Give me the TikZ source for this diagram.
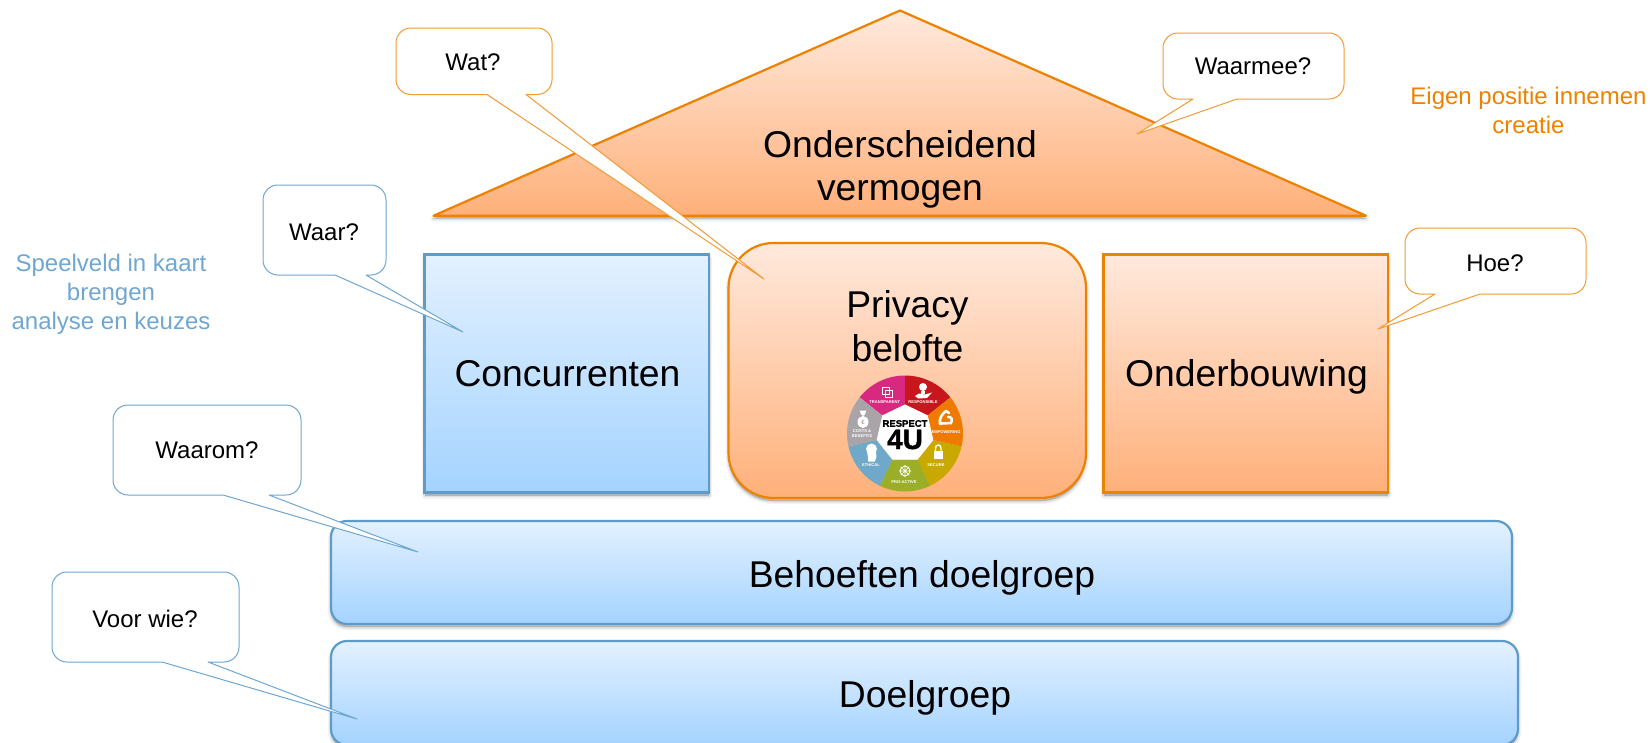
\documentclass[tikz,border=0pt]{standalone}
\usepackage{fontspec}
\setmainfont{Liberation Sans}
\newfontface\logoheavy[FakeBold=1.5]{Liberation Sans Bold}
\definecolor{orline}{HTML}{EE8100}
\definecolor{ortop}{HTML}{FFE9DD}
\definecolor{orbot}{HTML}{FFB07A}
\definecolor{blline}{HTML}{5E9BC9}
\definecolor{bltop}{HTML}{E3F1FF}
\definecolor{blbot}{HTML}{A4D3FF}
\definecolor{calor}{HTML}{F29A35}
\definecolor{calbl}{HTML}{6FA6D2}
\definecolor{wpink}{HTML}{D8287F}
\definecolor{wred}{HTML}{C8161D}
\definecolor{worange}{HTML}{EE7A00}
\definecolor{wyellow}{HTML}{C9A800}
\definecolor{wgreen}{HTML}{9BAE28}
\definecolor{wblue}{HTML}{6FA8C8}
\definecolor{wgrey}{HTML}{A8A4A8}
\tikzset{
  softshadow/.style={
    preaction={draw=black,fill=black,draw opacity=.05,fill opacity=.10,line width=6pt,line join=round,transform canvas={yshift=-3pt}},
    preaction={draw=black,fill=black,draw opacity=.08,fill opacity=.10,line width=3pt,line join=round,transform canvas={yshift=-3pt}}},
  orbox/.style={softshadow,draw=orline,line width=2.2pt,top color=ortop,bottom color=orbot,inner sep=0pt,outer sep=0pt,anchor=north west},
  blbox/.style={softshadow,draw=blline,line width=2.2pt,top color=bltop,bottom color=blbot,inner sep=0pt,outer sep=0pt,anchor=north west},
  bigtext/.style={inner sep=0pt,align=center,font=\fontsize{37.3}{43.5}\selectfont},
  asktext/.style={inner sep=0pt,font=\fontsize{24}{28}\selectfont},
  sidetext/.style={inner sep=0pt,align=center,font=\fontsize{24}{29}\selectfont},
  callor/.style={draw=calor,line width=1pt,fill=white},
  callbl/.style={draw=calbl,line width=1pt,fill=white},
  tinylabel/.style={inner sep=0pt,text=white,align=center,font=\fontsize{4.1}{5.4}\selectfont\bfseries},
  icon/.style={fill=white,draw=none},
  iconline/.style={draw=white,line width=.9pt,fill=none}
}
% x1 y1 x2 y2 tailA tailB tipx tipy style
\newcommand{\calloutshape}[9]{%
  \draw[#9,line join=round] (#5,#4) -- ({#1+15},{#4})
    .. controls ({#1+6.7},{#4}) and ({#1},{#4-6.7}) .. ({#1},{#4-15})
    -- ({#1},{#2+15})
    .. controls ({#1},{#2+6.7}) and ({#1+6.7},{#2}) .. ({#1+15},{#2})
    -- ({#3-15},{#2})
    .. controls ({#3-6.7},{#2}) and ({#3},{#2+6.7}) .. ({#3},{#2+15})
    -- ({#3},{#4-15})
    .. controls ({#3},{#4-6.7}) and ({#3-6.7},{#4}) .. ({#3-15},{#4})
    -- (#6,#4) -- (#7,#8) -- cycle;}
\begin{document}
\begin{tikzpicture}[x=1pt,y=-1pt]
\useasboundingbox (0,0) rectangle (1650,742);
\clip (0,0) rectangle (1650,742);
% house
\path[softshadow,draw=orline,line width=2.2pt,line join=round,top color=ortop,bottom color=orbot] (900,10.5) -- (1366,215.7) -- (433.5,215.7) -- cycle;
\node[bigtext] (roof) at (900,169.5) {Onderscheidend\\vermogen};
\node[blbox,minimum width=284.5pt,minimum height=238pt] (conc) at (424.5,254.5) {};
\node[bigtext] (conctext) at (567.5,373.5) {Concurrenten};
\node[orbox,rounded corners=45pt,minimum width=357.5pt,minimum height=255pt] (priv) at (728.5,243) {};
\node[bigtext] (privtext) at (907.5,326) {Privacy\\belofte};
\node[orbox,minimum width=284.5pt,minimum height=238pt] (onder) at (1103.5,254.5) {};
\node[bigtext] (ondertext) at (1246.5,376.5) {Onderbouwing};
\node[blbox,rounded corners=16pt,minimum width=1181pt,minimum height=103pt] (behoef) at (331,521) {};
\node[bigtext] (behoeftext) at (922,577.5) {Behoeften doelgroep};
\node[blbox,rounded corners=16pt,minimum width=1187pt,minimum height=104pt] (doel) at (331,641) {};
\node[bigtext] (doeltext) at (925,698) {Doelgroep};
% wheel
\begin{scope}[shift={(905,433.5)},y=1pt]
  \foreach \a/\c in {90/wpink,38.57/wred,-12.86/worange,-64.29/wyellow,-115.71/wgreen,-167.14/wblue,141.43/wgrey}{
    \fill[\c] (\a:29) -- (\a:58) arc[start angle=\a,end angle=\a+51.43,radius=58] -- ({\a+51.43}:29) -- cycle;
  }
  \fill[white] (90:29) -- (38.57:29) -- (-12.86:29) -- (-64.29:29) -- (-115.71:29) -- (-167.14:29) -- (141.43:29) -- cycle;
\end{scope}
\node[inner sep=0pt,font=\fontsize{9.5}{10}\logoheavy] (respect) at (905,423.5) {RESPECT};
\node[inner sep=0pt,font=\fontsize{28}{28}\logoheavy] (fouru) at (905,439.5) {4U};
\node[tinylabel] (l1) at (884.7,401.7) {TRANSPARENT};
\node[tinylabel] (l2) at (923,401.7) {RESPONSIBLE};
\node[tinylabel] (l3) at (946,432) {EMPOWERING};
\node[tinylabel] (l4) at (936,465) {SECURE};
\node[tinylabel] (l5) at (904,482) {PRO-ACTIVE};
\node[tinylabel] (l6) at (871,465) {ETHICAL};
\node[tinylabel] (l7) at (862,433.5) {COSTS \&\\BENEFITS};
% icons
\draw[iconline] (882,387) rectangle (889.5,394.5);
\draw[iconline] (885,390) rectangle (892,397);
\fill[icon] (923,387) circle (4);
\fill[icon] (921,391) rectangle (925,393.5);
\fill[icon] (915,396) -- (919,393.5) -- (925,394.5) -- (932,392.5) -- (927,398) -- (918,398.5) -- cycle;
\draw[iconline,line width=2.6pt,line cap=round,line join=round] (940,424) .. controls (939,418) and (942,414) .. (946,411) -- (949,413);
\draw[iconline,line width=2.6pt,line cap=round] (941,423.5) -- (951,423) .. controls (953,419) and (951,416.5) .. (948,417);
\fill[icon] (933.5,451) rectangle (943,459);
\draw[iconline,line width=1.4pt] (935.5,451) -- (935.5,448) .. controls (935.5,444) and (941,444) .. (941,448) -- (941,451);
\draw[iconline] (905,471) circle (5);
\draw[iconline,line width=.6pt] (899,471) -- (911,471) (905,465) -- (905,477) (900.8,466.8) -- (909.2,475.2) (900.8,475.2) -- (909.2,466.8);
\fill[icon] (871.5,449) circle (5.5);
\fill[icon] (867,452) -- (876,452) -- (876.5,457) -- (875,461) -- (875,461.5) -- (868,461.5) -- (868,457) -- cycle;
\fill[icon] (863,414.5) circle (1.5);
\fill[icon] (863,422) ellipse (5.5 and 6);
\fill[icon] (859.5,410.5) -- (866.5,410.5) -- (864.5,415) -- (861.5,415) -- cycle;
\node[inner sep=0pt,text=wgrey,font=\fontsize{6}{6}\selectfont\bfseries] (euro) at (863,422.5) {€};
% side texts
\node[sidetext,text=orline] (eigen) at (1528.5,110.5) {Eigen positie innemen\\creatie};
\node[sidetext,text=calbl] (speel) at (111,294.5) {Speelveld in kaart\\brengen\\analyse en keuzes};
% callouts
\calloutshape{396}{28}{552}{94.5}{487}{526}{764}{279}{callor}
\node[asktext] (wat) at (473,62) {Wat?};
\calloutshape{1163}{33}{1344}{99}{1193}{1237}{1137}{134}{callor}
\node[asktext] (waarmee) at (1253,66.5) {Waarmee?};
\calloutshape{1405}{228}{1586}{294}{1435}{1480}{1378}{329}{callor}
\node[asktext] (hoe) at (1495,263) {Hoe?};
\calloutshape{263}{185}{386}{275}{335}{366}{463}{332}{callbl}
\node[asktext] (waar) at (324,232) {Waar?};
\calloutshape{113}{405}{301}{495}{223}{269}{418}{552}{callbl}
\node[asktext] (waarom) at (207,450.5) {Waarom?};
\calloutshape{52}{572}{239}{662}{162}{208}{357}{719}{callbl}
\node[asktext] (voor) at (145,619) {Voor wie?};
\end{tikzpicture}
\end{document}
